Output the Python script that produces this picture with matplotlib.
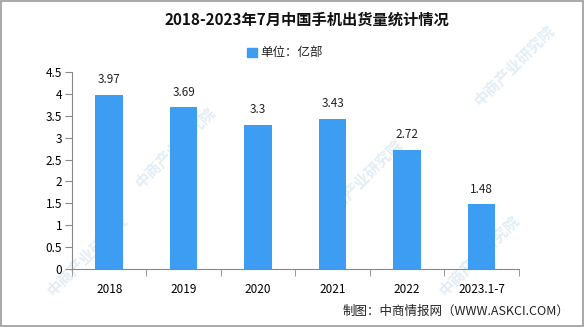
import numpy as np
import matplotlib.pyplot as plt
from matplotlib.patches import Rectangle

plt.rcParams['font.family'] = ['Noto Sans CJK SC', 'DejaVu Sans']

years = ["2018", "2019", "2020", "2021", "2022", "2023.1-7"]
shipments = [3.97, 3.69, 3.3, 3.43, 2.72, 1.48]
yticks = [0, 0.5, 1, 1.5, 2, 2.5, 3, 3.5, 4, 4.5]
ytick_labels = ["0", "0.5", "1", "1.5", "2", "2.5", "3", "3.5", "4", "4.5"]

bar_color = "#3D9DF2"
axis_color = "#888888"

fig = plt.figure(figsize=(5.85, 3.27), dpi=100)
ax = fig.add_axes([0.123, 0.177, 0.764, 0.603])
ax.set_zorder(2)

# faint watermarks behind the chart
for (wx, wy) in [(0.30, 0.55), (0.62, 0.45), (0.88, 0.80), (0.15, 0.22), (0.82, 0.22)]:
    fig.text(wx, wy, "中商产业研究院", rotation=45, fontsize=11, fontweight="bold",
             color="#e2edf5", ha="center", va="center", zorder=1)

x = np.arange(len(years))
ax.bar(x, shipments, width=0.37, color=bar_color, zorder=3)
for xi, v in zip(x, shipments):
    ax.text(xi, v + 0.2, f"{v:g}", ha="center", va="bottom", fontsize=8.5, color="#222222", zorder=4)

ax.set_xlim(-0.5, len(years) - 0.5)
ax.set_ylim(0, 4.5)
ax.set_yticks(yticks)
ax.set_yticklabels(ytick_labels, fontsize=8.5)
ax.set_xticks(x)
ax.set_xticklabels(years, fontsize=8.5)
ax.set_xticks(np.arange(len(years) + 1) - 0.5, minor=True)
ax.tick_params(axis="x", which="major", length=0, pad=10)
ax.tick_params(axis="x", which="minor", length=5, color=axis_color)
ax.tick_params(axis="y", length=5, color=axis_color, pad=2)

for s in ["top", "right"]:
    ax.spines[s].set_visible(False)
for s in ["left", "bottom"]:
    ax.spines[s].set_color(axis_color)
ax.patch.set_alpha(0)

fig.text(0.525, 0.939, "2018-2023年7月中国手机出货量统计情况", ha="center", va="center",
         fontsize=11, fontweight="bold", color="#111111", zorder=3)

# legend
fig.patches.append(Rectangle((0.422, 0.826), 0.017, 0.028, transform=fig.transFigure,
                             color=bar_color, figure=fig, zorder=3))
fig.text(0.445, 0.839, "单位：亿部", ha="left", va="center", fontsize=9, color="#222222", zorder=3)

fig.text(0.974, 0.049, "制图：中商情报网（WWW.ASKCI.COM）", ha="right", va="center",
         fontsize=9, color="#222222", zorder=3)

# outer frame
fig.patches.append(Rectangle((0.001, 0.002), 0.996, 0.995, transform=fig.transFigure,
                             fill=False, edgecolor="#999999", linewidth=1.2, figure=fig, zorder=3))

plt.savefig("out.png", dpi=100)
plt.close()
